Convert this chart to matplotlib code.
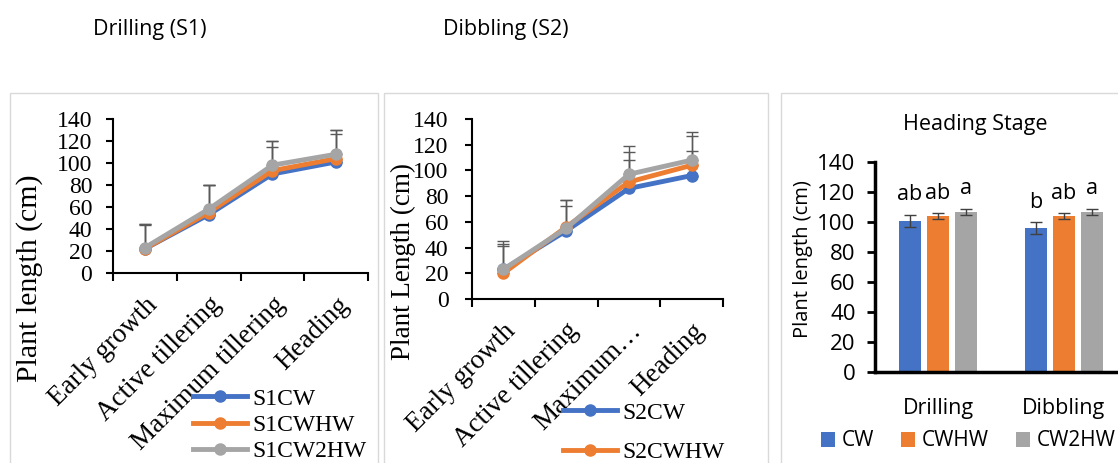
import numpy as np
import matplotlib
matplotlib.use("Agg")
import matplotlib.pyplot as plt
from matplotlib.patches import Rectangle, Patch

# =================== DATA ===================

stages = ["Early growth", "Active tillering", "Maximum tillering", "Heading"]
stages_s2 = ["Early growth", "Active tillering", "Maximum…", "Heading"]

# Drilling (S1) plant length (cm) and upper error
s1_names = ["S1CW", "S1CWHW", "S1CW2HW"]
s1_cw = [22, 53, 90, 101]
s1_cwhw = [22, 55, 93, 104]
s1_cw2hw = [23, 58, 98, 108]
s1_cw_err = [22, 27, 30, 29]
s1_cwhw_err = [23, 25, 27, 26]
s1_cw2hw_err = [22, 22, 17, 18]

# Dibbling (S2)
s2_names = ["S2CW", "S2CWHW", "S2CW2HW"]
s2_cw = [23, 53, 86, 96]
s2_cwhw = [20, 56, 91, 104]
s2_cw2hw = [23, 55, 97, 108]
s2_cw_err = [22, 24, 33, 34]
s2_cwhw_err = [23, 21, 23, 23]
s2_cw2hw_err = [18, 17, 11, 7]

# Heading stage bar chart
methods = ["Drilling", "Dibbling"]
treatments = ["CW", "CWHW", "CW2HW"]
head_cw = [101, 96]
head_cwhw = [104, 104]
head_cw2hw = [107, 107]
head_cw_err = [4, 4]
head_cwhw_err = [2, 2]
head_cw2hw_err = [2, 2]
head_letters_cw = ["ab", "b"]
head_letters_cwhw = ["ab", "ab"]
head_letters_cw2hw = ["a", "a"]

COLORS = ["#4472C4", "#ED7D31", "#A5A5A5"]
SERIF = "Liberation Serif"
SANS = "Open Sans"

W, H = 1118, 463


def fbox(left, top, right, bottom):
    """pixel box -> figure fraction [l, b, w, h]"""
    return [left / W, (H - bottom) / H, (right - left) / W, (bottom - top) / H]


def panel_border(fig, left, top, right, bottom):
    fig.add_artist(Rectangle((left / W, (H - bottom) / H), (right - left) / W,
                             (bottom - top) / H, transform=fig.transFigure,
                             fill=False, edgecolor="#d9d9d9", linewidth=1))


def line_panel(fig, box, labels, series, errs, names, ylabel, ylabel_xy,
               ytick_pad, leg_xy, leg_spacing, n_leg):
    ax = fig.add_axes(fbox(*box))
    x = np.arange(len(labels))
    for vals, err in zip(series, errs):
        ax.errorbar(x, vals, yerr=[np.zeros(len(err)), err], fmt="none",
                    ecolor="#595959", elinewidth=1, capsize=4, capthick=1,
                    zorder=2)
    lines = []
    for vals, name, c in zip(series, names, COLORS):
        ln, = ax.plot(x, vals, color=c, lw=3.5, marker="o", ms=8, label=name,
                      zorder=3)
        lines.append(ln)

    ax.set_xlim(-0.5, len(labels) - 0.5)
    ax.set_ylim(0, 140)
    ax.set_yticks(range(0, 141, 20))
    ax.set_xticks(np.arange(-0.5, len(labels), 1.0))
    ax.set_xticklabels([])
    ax.set_xticks(x, minor=True)
    ax.set_xticklabels(labels, minor=True, rotation=45, ha="right",
                       rotation_mode="anchor", fontsize=19.5, family=SERIF)
    ax.tick_params(axis="x", which="major", length=6, width=1.5, direction="out")
    ax.tick_params(axis="x", which="minor", length=0, pad=14)
    ax.tick_params(axis="y", length=5, width=1.5, pad=ytick_pad, labelsize=17)
    for lab in ax.get_yticklabels():
        lab.set_family(SERIF)
    for s in ["top", "right"]:
        ax.spines[s].set_visible(False)
    ax.spines["left"].set_linewidth(1.5)
    ax.spines["bottom"].set_linewidth(1.5)

    fig.text(ylabel_xy[0] / W, 1 - ylabel_xy[1] / H, ylabel, rotation=90,
             ha="center", va="center", fontsize=ylabel_xy[2], family=SERIF)

    # only the entries that fit inside the panel are shown
    ax.legend(lines[:n_leg], names[:n_leg], loc="upper left",
              bbox_to_anchor=(leg_xy[0] / W, 1 - leg_xy[1] / H),
              bbox_transform=fig.transFigure, frameon=False, borderpad=0,
              borderaxespad=0, handlelength=2.3, handletextpad=0.2,
              labelspacing=leg_spacing, prop={"family": SERIF, "size": 17})
    return ax


def bar_panel(fig):
    ax = fig.add_axes(fbox(875, 162, 1127, 372))
    x = np.arange(len(methods))
    step, width = 0.222, 0.175
    vals = [head_cw, head_cwhw, head_cw2hw]
    errs = [head_cw_err, head_cwhw_err, head_cw2hw_err]
    letters = [head_letters_cw, head_letters_cwhw, head_letters_cw2hw]
    for i, (v, e, lt, c) in enumerate(zip(vals, errs, letters, COLORS)):
        pos = x + (i - 1) * step
        ax.bar(pos, v, width=width, color=c, label=treatments[i], zorder=2)
        ax.errorbar(pos, v, yerr=e, fmt="none", ecolor="#404040",
                    elinewidth=1, capsize=4, capthick=1, zorder=3)
        for p, vv, ee, t in zip(pos, v, e, lt):
            ax.text(p, vv + ee + 6, t, ha="center", va="bottom",
                    fontsize=15.5, family=SANS)

    ax.set_xlim(-0.5, 1.5)
    ax.set_ylim(0, 140)
    ax.set_yticks(range(0, 141, 20))
    ax.set_xticks(x)
    ax.set_xticklabels(methods, fontsize=15.5, family=SANS)
    ax.tick_params(axis="x", length=0, pad=19)
    ax.tick_params(axis="y", length=6, width=2, pad=8, labelsize=16)
    for lab in ax.get_yticklabels():
        lab.set_family(SANS)
    for s in ["top", "right"]:
        ax.spines[s].set_visible(False)
    ax.spines["left"].set_linewidth(2.5)
    ax.spines["bottom"].set_linewidth(2.5)

    fig.text(975 / W, 1 - 125 / H, "Heading Stage", ha="center", va="center",
             fontsize=15.5, family=SANS)
    fig.text(803 / W, 1 - 259 / H, "Plant length (cm)", rotation=90,
             ha="center", va="center", fontsize=14.5, family=SANS)

    handles = [Patch(facecolor=c) for c in COLORS]
    fig.legend(handles, treatments, loc="center",
               bbox_to_anchor=(968 / W, 1 - 441 / H), ncol=3, frameon=False,
               handlelength=0.7, handleheight=0.7, handletextpad=0.3,
               columnspacing=1.3, borderpad=0,
               prop={"family": SANS, "size": 15})
    return ax


def main():
    fig = plt.figure(figsize=(W / 100, H / 100), dpi=100)

    panel_border(fig, 10, 93, 378, 470)
    panel_border(fig, 384, 93, 768, 470)
    panel_border(fig, 781, 93, 1125, 470)

    fig.text(150 / W, 1 - 30 / H, "Drilling (S1)", ha="center", va="center",
             fontsize=15.5, family=SANS)
    fig.text(506 / W, 1 - 30 / H, "Dibbling (S2)", ha="center", va="center",
             fontsize=15.5, family=SANS)

    line_panel(fig, (113, 119, 368, 273), stages,
               [s1_cw, s1_cwhw, s1_cw2hw], [s1_cw_err, s1_cwhw_err, s1_cw2hw_err],
               s1_names, "Plant length (cm)", (30, 278, 21.5), 10,
               (193, 388), 0.2, 3)
    line_panel(fig, (472, 119, 723, 299), stages_s2,
               [s2_cw, s2_cwhw, s2_cw2hw], [s2_cw_err, s2_cwhw_err, s2_cw2hw_err],
               s2_names, "Plant Length (cm)", (403, 261, 19.5), 12,
               (563, 402), 0.75, 2)

    bar_panel(fig)

    fig.savefig("out.png", dpi=100)
    plt.close(fig)


if __name__ == "__main__":
    main()
